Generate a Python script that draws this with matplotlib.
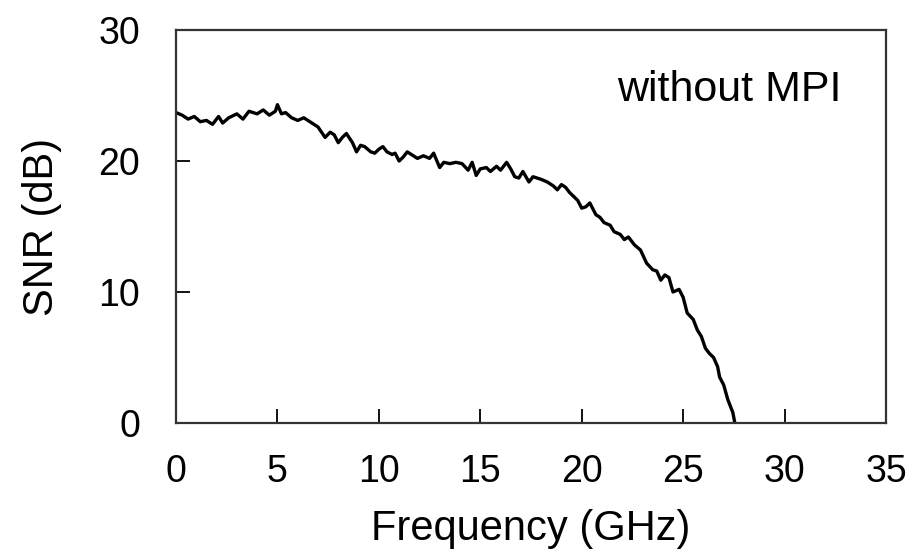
import matplotlib
matplotlib.use("Agg")
import matplotlib.pyplot as plt

plt.rcParams['font.family'] = ['Liberation Sans', 'DejaVu Sans']

# SNR vs frequency
freq = [0.0, 0.3, 0.6, 0.9, 1.2, 1.5, 1.8, 2.1, 2.3, 2.6, 3.0, 3.3, 3.6, 4.0, 4.3, 4.6,
        4.9, 5.0, 5.2, 5.4, 5.7, 6.0, 6.3, 6.7, 7.0, 7.35, 7.6, 7.8, 8.0, 8.2, 8.4, 8.7,
        8.9, 9.1, 9.3, 9.6, 9.8, 10.0, 10.2, 10.4, 10.65, 10.8, 11.0, 11.2, 11.4, 11.7,
        11.9, 12.2, 12.5, 12.7, 13.0, 13.2, 13.5, 13.8, 14.1, 14.4, 14.6, 14.8, 15.0,
        15.3, 15.5, 15.8, 16.0, 16.3, 16.5, 16.7, 16.9, 17.1, 17.4, 17.6, 17.8, 18.0,
        18.3, 18.6, 18.8, 19.0, 19.2, 19.4, 19.6, 19.8, 20.0, 20.2, 20.4, 20.7, 20.9,
        21.1, 21.4, 21.6, 21.9, 22.1, 22.3, 22.6, 22.9, 23.2, 23.5, 23.7, 23.9, 24.1,
        24.3, 24.5, 24.8, 25.0, 25.2, 25.5, 25.7, 25.9, 26.1, 26.3, 26.5, 26.7, 26.8,
        27.0, 27.2, 27.35, 27.45, 27.55]
snr = [23.7, 23.5, 23.2, 23.4, 23.0, 23.1, 22.8, 23.4, 22.9, 23.3, 23.6, 23.2, 23.8, 23.6,
       23.9, 23.5, 23.8, 24.3, 23.6, 23.7, 23.3, 23.1, 23.3, 22.9, 22.6, 21.8, 22.2, 22.0,
       21.4, 21.8, 22.1, 21.4, 20.7, 21.2, 21.1, 20.7, 20.6, 20.9, 21.1, 20.7, 20.5, 20.6,
       20.0, 20.3, 20.7, 20.4, 20.2, 20.4, 20.2, 20.6, 19.5, 19.9, 19.8, 19.9, 19.8, 19.3,
       19.9, 18.9, 19.4, 19.5, 19.2, 19.6, 19.3, 19.9, 19.4, 18.8, 18.7, 19.2, 18.4, 18.8,
       18.7, 18.6, 18.4, 18.1, 17.8, 18.2, 18.0, 17.6, 17.3, 17.0, 16.4, 16.5, 16.8, 15.9,
       15.7, 15.3, 15.1, 14.6, 14.4, 14.0, 14.2, 13.6, 13.2, 12.2, 11.7, 11.6, 10.9, 11.3,
       11.1, 10.0, 10.2, 9.6, 8.4, 7.9, 7.1, 6.6, 5.7, 5.3, 5.0, 4.3, 3.5, 2.9, 1.8, 1.2,
       0.8, 0.0]

x_ticks = [0, 5, 10, 15, 20, 25, 30, 35]
y_ticks = [0, 10, 20, 30]

fig = plt.figure(figsize=(9.1, 5.54), dpi=100)
ax = fig.add_axes([0.1934, 0.2365, 0.7802, 0.7093])

ax.plot(freq, snr, color='black', linewidth=2.4)

ax.set_xlim(0, 35)
ax.set_ylim(0, 30)
ax.set_xticks(x_ticks)
ax.set_yticks(y_ticks)
ax.tick_params(direction='in', length=10, width=1.3, labelsize=27, colors='black',
               top=False, right=False)
ax.tick_params(axis='x', pad=22)
ax.tick_params(axis='y', pad=26)
for sp in ax.spines.values():
    sp.set_linewidth(1.6)
    sp.set_color('#333333')

ax.set_xlabel('Frequency (GHz)', fontsize=30, labelpad=14)
ax.set_ylabel('SNR (dB)', fontsize=30, labelpad=26)
ax.text(0.938, 0.847, 'without MPI', transform=ax.transAxes, fontsize=31,
        ha='right', va='center')

fig.savefig('out.png', dpi=100)
